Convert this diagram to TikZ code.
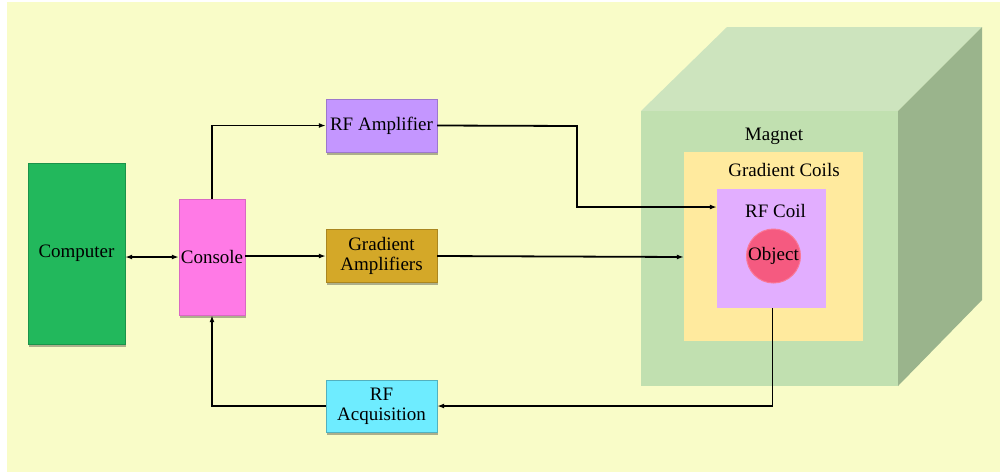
\documentclass[tikz,border=0pt]{standalone}
\usepackage{fontspec}
\setmainfont{Liberation Serif}
\usetikzlibrary{arrows.meta,shadows}

\definecolor{bg}{RGB}{249,252,200}
\definecolor{compgreen}{RGB}{34,184,92}
\definecolor{conspink}{RGB}{255,122,230}
\definecolor{rfpurple}{RGB}{196,150,255}
\definecolor{gradgold}{RGB}{212,168,40}
\definecolor{acqcyan}{RGB}{110,236,255}
\definecolor{magfront}{RGB}{193,224,176}
\definecolor{magtop}{RGB}{205,228,190}
\definecolor{magside}{RGB}{154,180,140}
\definecolor{coilyellow}{RGB}{255,234,158}
\definecolor{rfcoil}{RGB}{226,174,255}
\definecolor{objred}{RGB}{245,90,128}
\definecolor{objedge}{RGB}{250,120,150}

\tikzset{
  blk/.style={rectangle, inner sep=0pt, align=center,
    font=\rmfamily\fontsize{19}{21}\selectfont,
    drop shadow={shadow xshift=1pt, shadow yshift=-2.5pt, opacity=0.3, fill=black}},
  conn/.style={line width=1.8pt, -{Latex[length=7pt,width=5pt]}},
  lbl/.style={font=\rmfamily\fontsize{19}{21}\selectfont, inner sep=0pt}
}

\begin{document}
\begin{tikzpicture}[x=1pt,y=-1pt]
  \useasboundingbox (0,0) rectangle (1000,472);
  \fill[bg] (7,2) rectangle (1000,472);

  % magnet cube
  \fill[magtop] (641,111) -- (727,27) -- (982,27) -- (898,111) -- cycle;
  \fill[magside] (898,111) -- (982,27) -- (982,300) -- (898,386) -- cycle;
  \fill[magfront] (641,111) rectangle (898,386);
  \node[lbl] (magnet) at (774,136) {Magnet};

  % coils and object
  \node[rectangle, fill=coilyellow, minimum width=179pt, minimum height=189pt, inner sep=0pt] (gcoil) at (773.5,246.5) {};
  \node[lbl] (gclabel) at (784,170) {Gradient Coils};
  \node[rectangle, fill=rfcoil, minimum width=109pt, minimum height=119pt, inner sep=0pt] (rfcoil) at (771.5,248.5) {};
  \node[lbl] (rflabel) at (775.5,211) {RF Coil};
  \node[circle, fill=objred, draw=objedge, line width=1pt, minimum size=54pt, inner sep=0pt] (obj) at (773.5,256) {};
  \node[lbl] at (obj) {Object};

  % processing blocks
  \node[blk, fill=compgreen, draw=compgreen!80!black, line width=0.4pt, minimum width=97pt, minimum height=181pt] (computer) at (76.5,253.5) {Computer};
  \node[blk, fill=conspink, draw=conspink!85!black, line width=0.4pt, minimum width=66pt, minimum height=116pt] (console) at (212,257) {Console};
  \node[blk, fill=rfpurple, draw=rfpurple!80!black, line width=0.4pt, minimum width=111pt, minimum height=53pt] (rfamp) at (381.5,125.5) {RF Amplifier};
  \node[blk, fill=gradgold, draw=gradgold!80!black, line width=0.4pt, minimum width=111pt, minimum height=53pt] (gradamp) at (381.5,255.5) {Gradient\\[-1pt]Amplifiers};
  \node[blk, fill=acqcyan, draw=acqcyan!75!black, line width=0.4pt, minimum width=111pt, minimum height=52pt] (rfacq) at (381.5,406) {RF\\[-1pt]Acquisition};

  % bend points
  \coordinate (rfbend) at (577,126);
  \coordinate (gcin) at (gcoil.west |- 0,257);
  \coordinate (rfin) at (rfcoil.west |- 0,207);

  % connectors
  \draw[line width=1.8pt, {Latex[length=7pt,width=5pt]}-{Latex[length=7pt,width=5pt]}] (computer.east |- 0,257) -- (console.west |- 0,257);
  \draw[conn] (console.east |- 0,256) -- (gradamp.west |- 0,256);
  \draw[conn] (console.north) |- (rfamp.west);
  \draw[conn] (rfamp.east) -- (rfbend) |- (rfin);
  \draw[conn] (gradamp.east |- 0,256) -- (gcin);
  \draw[conn] ([xshift=1pt]rfcoil.south) |- (rfacq.east);
  \draw[conn] (rfacq.west) -| (console.south);
\end{tikzpicture}
\end{document}
